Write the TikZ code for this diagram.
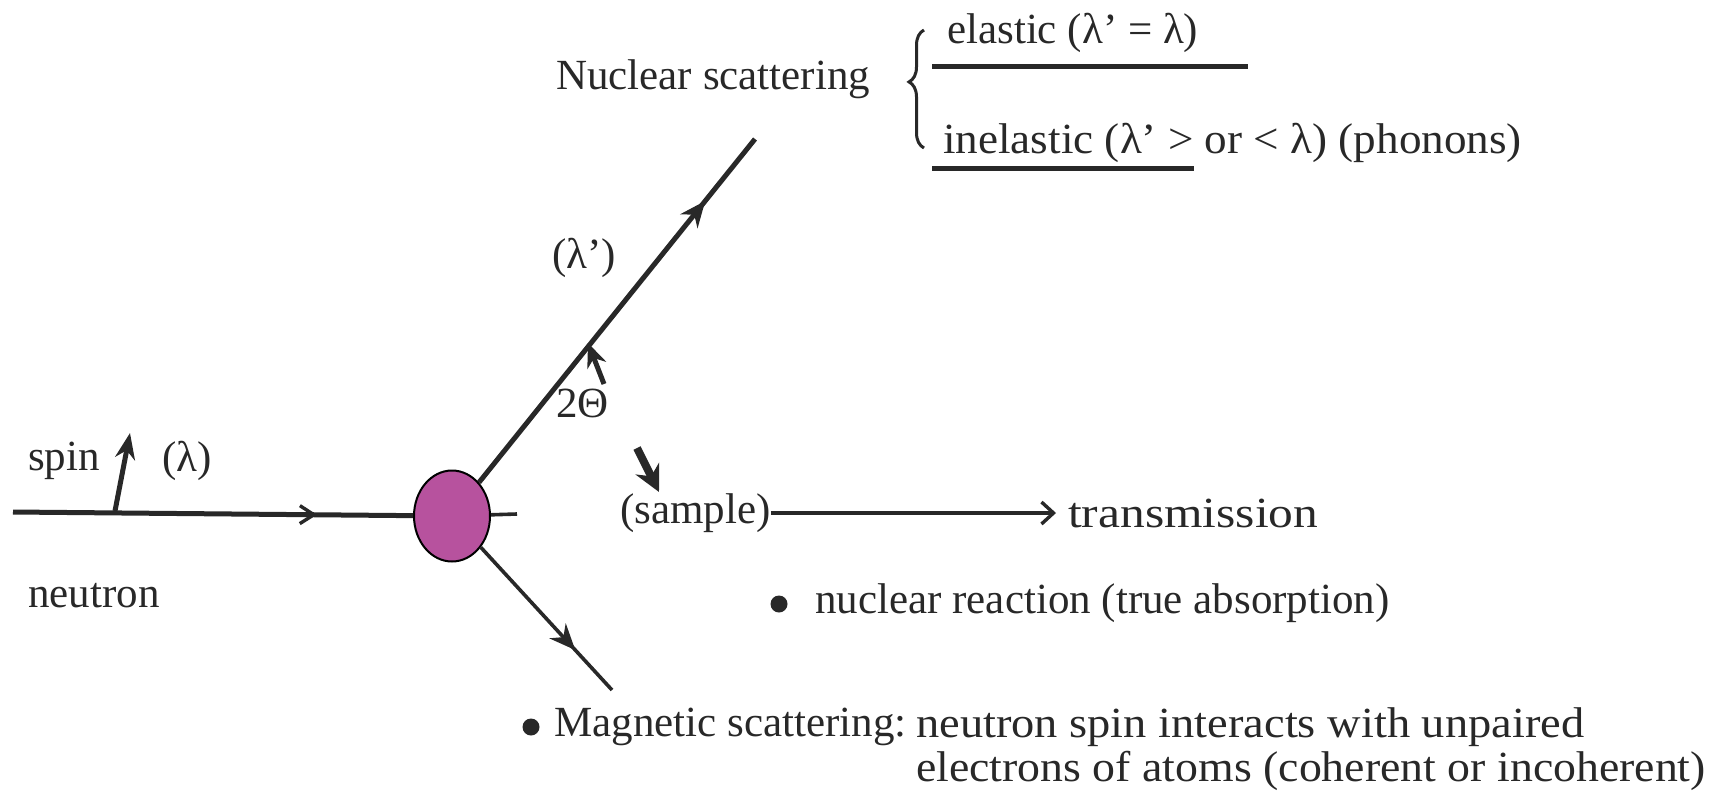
\documentclass[tikz,border=0pt]{standalone}
\usepackage{fontspec}
\setmainfont{Liberation Serif}
\usetikzlibrary{arrows.meta,decorations.pathreplacing,decorations.markings,shapes.geometric,calc}
\definecolor{sampfill}{RGB}{183,82,158}
\definecolor{ink}{RGB}{40,40,40}
\begin{document}
\begin{tikzpicture}[x=1pt,y=-1pt,
  txt/.style={font=\fontsize{43}{48}\selectfont, inner sep=0pt, text=ink, anchor=west},
  ray/.style={draw=ink, line width=5pt},
  thinray/.style={draw=ink, line width=3.6pt},
  midbarb/.style={postaction={decorate}, decoration={markings, mark=at position #1 with {\arrow{Straight Barb[length=14pt,width=18pt,line width=3.4pt]}}}},
  midtri/.style={postaction={decorate}, decoration={markings, mark=at position #1 with {\arrow{Stealth[length=26pt,width=22pt]}}}},
  uline/.style={draw=ink, line width=5pt},
  blob/.style={circle, fill=ink, inner sep=0pt, minimum size=17pt}
]
\useasboundingbox (0,0) rectangle (1720,798);

% sample
\node (s) [ellipse, draw=black, line width=2pt, fill=sampfill, minimum width=76pt, minimum height=91pt, inner sep=0pt] at (452,516) {};

% incoming neutron
\coordinate (nin) at (13,512);
\draw[ray, midbarb=0.76] (nin) -- (s);
\coordinate (sp0) at (115,511);
\coordinate (sp1) at (130,433);
\draw[ray, -{Stealth[length=26pt,width=20pt]}] (sp0) -- (sp1);
\node[txt] (spin) at (28,461) {spin};
\node[txt] (lam) at (162,461) {(λ)};
\node[txt] (neutron) at (28,596) {neutron};

% transmitted stub
\coordinate (tstub) at (517,514);
\draw[thinray] (s) -- (tstub);

% scattered up
\coordinate (uend) at (755,139);
\draw[ray, midtri=0.82] (s) -- (uend);
\node[txt] (lamp) at (552,258) {(λ')};
\coordinate (ang0) at (604,384);
\coordinate (ang1) at (588,343);
\draw[draw=ink, line width=5pt, -{Stealth[length=24pt,width=20pt]}] (ang0) -- (ang1);
\node[txt] (theta) at (556,403) {2Θ};

% scattered down
\coordinate (dend) at (612,690);
\draw[thinray, midtri=0.72] (s) -- (dend);

% pointer to sample
\coordinate (p0) at (637,448);
\coordinate (p1) at (659,492);
\draw[draw=ink, line width=8pt, -{Stealth[length=26pt,width=26pt]}] (p0) -- (p1);

% sample / transmission
\node[txt] (sample) at (620,513) {(sample)};
\node[txt] (trans) at (1068,513) {\scalebox{1.15}[1]{transmission}};
\draw[draw=ink, line width=4.5pt, -{Straight Barb[length=12pt,width=22pt,line width=3.4pt]}] (sample.east) -- ([xshift=-12pt]trans.west);

% nuclear reaction
\node[blob] (b1) at (779,604) {};
\node[txt] (nucr) at (815,603) {nuclear reaction (true absorption)};

% nuclear scattering
\node[txt] (nucs) at (556,79) {Nuclear scattering};
\coordinate (br0) at (924,148);
\coordinate (br1) at (924,30);
\draw[draw=ink, line width=3pt, decorate, decoration={brace, amplitude=15pt, aspect=0.56}] (br0) -- (br1);
\node[txt] (el) at (947,33) {elastic (λ' = λ)};
\draw[uline] (932,66) -- (1248,66);
\node[txt] (inel) at (943,143) {\scalebox{1.05}[1]{inelastic (λ' > or < λ) (phonons)}};
\draw[uline] (932,168) -- (1194,168);

% magnetic scattering
\node[blob] (b2) at (531,727) {};
\node[txt] (mag) at (554,727) {Magnetic scattering:};
\node[txt] (mag1) at (916,727) {\scalebox{1.08}[1]{neutron spin interacts with unpaired}};
\node[txt] (mag2) at (916,771) {\scalebox{1.065}[1]{electrons of atoms (coherent or incoherent)}};
\end{tikzpicture}
\end{document}
